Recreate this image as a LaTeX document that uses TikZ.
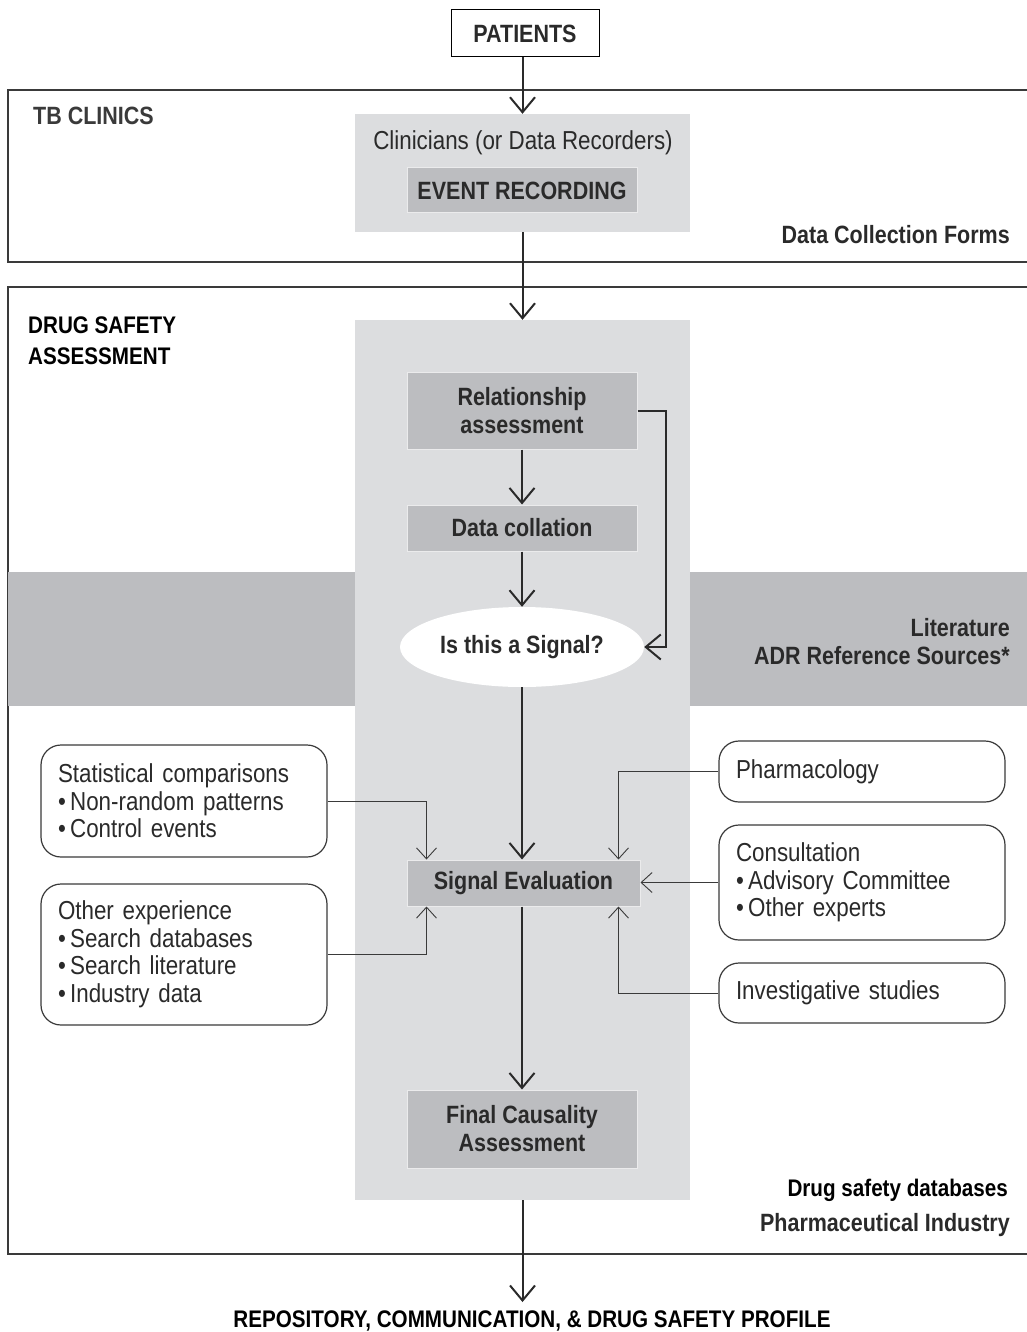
\documentclass[tikz,border=0pt]{standalone}
\usepackage{fontspec}
\setmainfont{Liberation Sans}[FakeStretch=0.86]
\usepackage{tikz}
\usetikzlibrary{arrows.meta,positioning,shapes.geometric,calc}

\definecolor{panel}{HTML}{DCDDDF}
\definecolor{boxgray}{HTML}{BCBDC0}
\definecolor{ink}{HTML}{2A2A2A}
\definecolor{rule}{HTML}{3A3A3A}

\begin{document}
\begin{tikzpicture}[
  x=1pt, y=-1pt, >=Stealth,
  txt/.style={font=\fontsize{26}{27.5}\selectfont, text=ink},
  hd/.style={font=\fontsize{25}{28}\selectfont\bfseries, text=ink},
  label/.style={font=\fontsize{24}{31}\selectfont\bfseries, text=black, inner sep=0pt},
  stage/.style={hd, fill=boxgray, draw=white!70!boxgray, line width=1pt, minimum width=230pt, align=center, inner sep=0pt},
  side/.style={txt, draw=rule, line width=1.2pt, fill=white, rounded corners=20pt, text width=252pt, align=left, inner xsep=17pt, inner ysep=0pt},
  flow/.style={-{Straight Barb[length=15pt,width=25pt]}, line width=2pt, draw=ink},
  feed/.style={-{Straight Barb[length=11pt,width=20pt]}, line width=0.9pt, draw=rule},
  frame/.style={draw=rule, line width=1.3pt},
]
\useasboundingbox (0,0) rectangle (1027,1332);

% ---------------- frames and bands ----------------
\draw[frame] (1035,90) -| (8,262) -- (1035,262);
\draw[frame] (1035,287) -| (8,1254) -- (1035,1254);
\fill[boxgray] (8,572) rectangle (1035,706);

\node[fill=panel, minimum width=335pt, minimum height=118pt, inner sep=0pt] (clin) at (522.5,173) {};
\node[fill=panel, minimum width=335pt, minimum height=880pt, inner sep=0pt] (col) at (522.5,760) {};

% ---------------- top: patients and clinics ----------------
\node[hd, draw=black, line width=1pt, fill=white, minimum width=148pt, minimum height=47pt, inner sep=0pt] (pat) at (525,33.5) {PATIENTS};
\node[txt, inner sep=0pt] (clinlbl) at (523,143) {Clinicians (or Data Recorders)};
\node[stage, minimum height=45pt] (event) at (522,190.5) {EVENT RECORDING};
\node[hd, text=rule, anchor=west, inner sep=0pt] (tbc) at (33,116) {TB CLINICS};
\node[hd, text=ink, anchor=east, inner sep=0pt] (dcf) at (1010,235) {Data Collection Forms};

\draw[flow] (clin.north |- pat.south) -- (clin.north);
\draw[flow] (clin) -- (col);

% ---------------- drug safety assessment ----------------
\node[label, align=left, anchor=west] (dsa) at (28,341) {DRUG SAFETY\\ASSESSMENT};
\node[hd, align=right, anchor=east, inner sep=0pt] (lit) at (1010,642) {Literature\\ADR Reference Sources*};

\node[stage, minimum height=77pt] (rel) at (522,410.5) {Relationship\\assessment};
\node[stage, minimum height=46pt] (coll) at (522,528) {Data collation};
\node[hd, ellipse, fill=white, minimum width=244pt, minimum height=80pt, inner sep=0pt] (sig) at (522,647) {Is this a Signal?};
\node[stage, minimum width=233pt, minimum height=46pt] (eval) at (523.5,883) {Signal Evaluation};
\node[stage, minimum height=78pt] (final) at (522,1129) {Final Causality\\Assessment};

\draw[flow] (rel) -- (coll);
\draw[flow] (coll) -- (sig);
\draw[flow] (rel.east) -- ++(28,0) |- (sig.east);
\draw[flow] (sig.south) -- (sig.south |- eval.north);
\draw[flow] (final.north |- eval.south) -- (final.north);

% ---------------- evidence sources ----------------
\node[side, minimum height=112pt] (stat) at (184,801) {Statistical comparisons\\\textbullet\,Non-random patterns\\\textbullet\,Control events};
\node[side, minimum height=141pt] (other) at (184,954.5) {Other experience\\\textbullet\,Search databases\\\textbullet\,Search literature\\\textbullet\,Industry data};
\node[side, minimum height=61pt] (pharm) at (862,771.5) {Pharmacology};
\node[side, minimum height=115pt] (consult) at (862,882.5) {Consultation\\\textbullet\,Advisory Committee\\\textbullet\,Other experts};
\node[side, minimum height=60pt] (invest) at (862,993) {Investigative studies};

\draw[feed] (stat.east) -| ($(eval.north west)+(20,0)$);
\draw[feed] (other.east) -| ($(eval.south west)+(20,0)$);
\draw[feed] (pharm.west) -| ($(eval.north east)+(-22,0)$);
\draw[feed] (consult.west) -- (consult.west -| eval.east);
\draw[feed] (invest.west) -| ($(eval.south east)+(-22,0)$);

% ---------------- output ----------------
\node[label, anchor=base east] (dsdb) at (1008,1196) {Drug safety databases};
\node[hd, anchor=base east, inner sep=0pt] (pharma) at (1010,1231) {Pharmaceutical Industry};
\node[label, anchor=base, inner ysep=0pt] (repo) at (532,1327) {REPOSITORY, COMMUNICATION, \& DRUG SAFETY PROFILE};
\draw[flow] (col.south) -- ([yshift=8pt]col.south |- repo.north);
\end{tikzpicture}
\end{document}
